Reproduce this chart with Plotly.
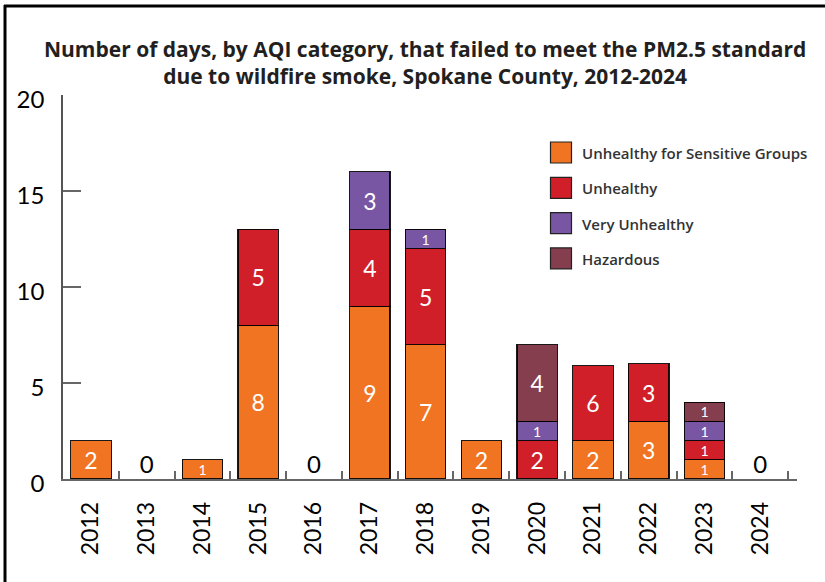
import plotly.graph_objects as go

# ---------------- data ----------------
years = ["2012", "2013", "2014", "2015", "2016", "2017", "2018",
         "2019", "2020", "2021", "2022", "2023", "2024"]
usg_values = [2, None, 1, 8, None, 9, 7, 2, None, 2, 3, 1, None]
unhealthy_values = [None, None, None, 5, None, 4, 5, None, 2, 3.9, 3, 1, None]
unhealthy_labels = ["", "", "", "5", "", "4", "5", "", "2", "6", "3", "1", ""]
very_unhealthy_values = [None, None, None, None, None, 3, 1, None, 1, None, None, 1, None]
hazardous_values = [None, None, None, None, None, None, None, None, 4, None, None, 1, None]
zero_years = ["2013", "2016", "2024"]
zero_values = [0, 0, 0]

series_names = ["Unhealthy for Sensitive Groups", "Unhealthy",
                "Very Unhealthy", "Hazardous"]
series_colors = ["#F07422", "#D01F29", "#7856A3", "#843E4E"]
y_ticks = [0, 5, 10, 15, 20]

# ---------------- layout helpers ----------------
W, H = 825, 582
L, R, T, B = 63, 28, 95, 103
PW, PH = W - L - R, H - T - B


def px(x):
    return (x - L) / PW


def py(y):
    return (H - B - y) / PH


FONT = "Lato"
TFONT = "Open Sans"


def labels_from(vals):
    return ["" if v is None else (str(int(v)) if float(v).is_integer() else str(v)) for v in vals]


def sizes_from(labels):
    return [14 if s == "1" else 23 for s in labels]


fig = go.Figure()
stack = [
    (usg_values, labels_from(usg_values)),
    (unhealthy_values, unhealthy_labels),
    (very_unhealthy_values, labels_from(very_unhealthy_values)),
    (hazardous_values, labels_from(hazardous_values)),
]
for (vals, labs), name, color in zip(stack, series_names, series_colors):
    fig.add_trace(go.Bar(
        x=years, y=vals, name=name, text=labs,
        texttemplate="%{text}",
        textposition="inside", insidetextanchor="middle", textangle=0,
        constraintext="none",
        textfont=dict(family=FONT, color="white", size=sizes_from(labs)),
        marker=dict(color=color, line=dict(color="rgba(0,0,0,0.9)", width=1.2)),
        showlegend=False,
    ))

fig.add_trace(go.Scatter(
    x=zero_years, y=zero_values, mode="text", text=[str(v) for v in zero_values],
    textposition="top center", textfont=dict(family=FONT, size=24, color="black"),
    showlegend=False, hoverinfo="skip", cliponaxis=False,
))

shapes = [
    dict(type="line", xref="paper", yref="paper", x0=px(5), x1=px(5),
         y0=py(5), y1=py(600), line=dict(color="black", width=3)),
    dict(type="line", xref="paper", yref="paper", x0=px(4), x1=px(830),
         y0=py(6), y1=py(6), line=dict(color="black", width=3)),
]
annotations = [
    dict(xref="paper", yref="paper", x=px(425), y=py(62), xanchor="center",
         yanchor="middle", showarrow=False,
         text="<b>Number of days, by AQI category, that failed to meet the PM2.5 standard"
              "<br>due to wildfire smoke, Spokane County, 2012-2024</b>",
         font=dict(family=TFONT, size=21, color="#231F20")),
]
# legend built from shapes + text
for i, (name, color) in enumerate(zip(series_names, series_colors)):
    top = 142 + i * 35.3
    shapes.append(dict(type="rect", xref="paper", yref="paper",
                       x0=px(550.5), x1=px(571.5), y0=py(top + 21), y1=py(top),
                       fillcolor=color, line=dict(color="#222", width=1.2)))
    annotations.append(dict(xref="paper", yref="paper", x=px(580), y=py(top + 11),
                            xanchor="left", yanchor="middle", showarrow=False,
                            text=name,
                            font=dict(family=TFONT, size=15, color="#333333", weight=600)))

fig.update_layout(
    width=W, height=H,
    margin=dict(l=L, r=R, t=T, b=B, pad=0),
    paper_bgcolor="white", plot_bgcolor="white",
    barmode="stack", bargap=0.274,
    shapes=shapes, annotations=annotations,
    font=dict(family=FONT, color="black"),
)
fig.update_xaxes(
    type="category", tickson="boundaries", ticks="inside", ticklen=8,
    tickwidth=2, tickcolor="#666", showline=True, linecolor="#666",
    linewidth=1.5, tickangle=-90, tickfont=dict(family=FONT, size=23, color="black"),
    ticklabelstandoff=12, showgrid=False, zeroline=False,
)
fig.update_yaxes(
    range=[0, 20], tickvals=y_ticks, ticks="inside", ticklen=18, tickwidth=1.5,
    tickcolor="#666", showline=True, linecolor="#555", linewidth=1.5,
    tickfont=dict(family=FONT, size=24, color="black"), ticklabelshift=5,
    ticklabelstandoff=12, showgrid=False, zeroline=False,
)

fig.write_html("out.html", config={"displayModeBar": False},
               post_script="document.body.style.margin='0';")
